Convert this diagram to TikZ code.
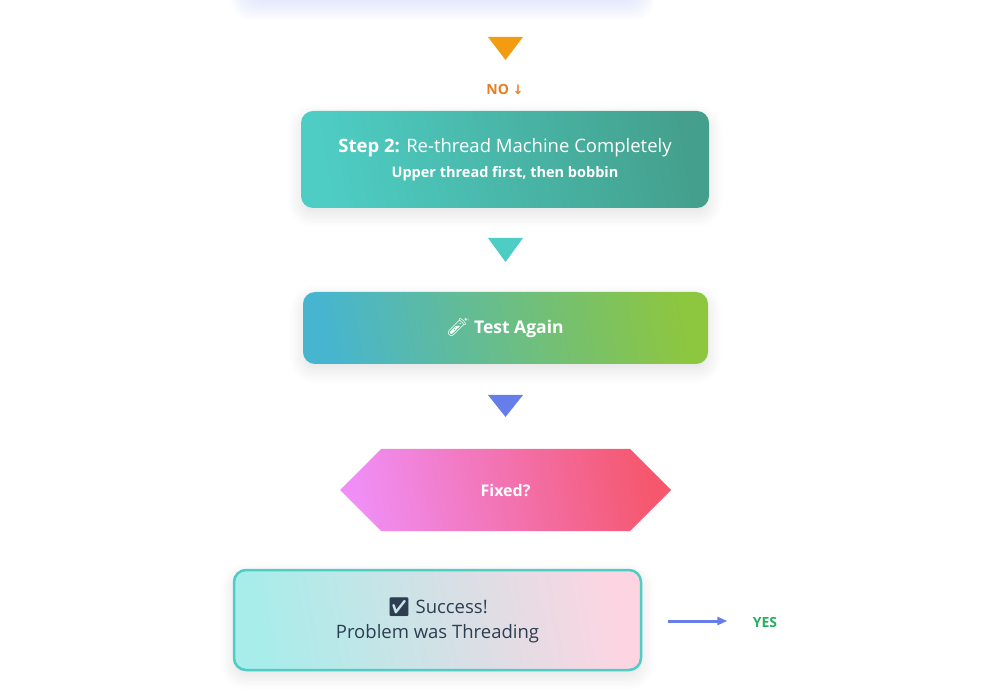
\documentclass[tikz,border=0pt]{standalone}
\usepackage{fontspec}
\setmainfont{Open Sans}
\newfontfamily\emo{Noto Emoji}
\newfontfamily\dvs{DejaVu Sans}
\usetikzlibrary{shadows.blur,arrows.meta}
\definecolor{orng}{HTML}{F39C12}
\definecolor{orngt}{HTML}{E67E22}
\definecolor{teal1}{HTML}{4ECDC4}
\definecolor{teal2}{HTML}{44A08D}
\definecolor{blu}{HTML}{667EEA}
\definecolor{tst1}{HTML}{47B5CF}
\definecolor{tst2}{HTML}{8DC63F}
\definecolor{pk1}{HTML}{F08EF5}
\definecolor{pk2}{HTML}{F5576C}
\definecolor{sc1}{HTML}{A8EDEA}
\definecolor{sc2}{HTML}{FDD5E2}
\definecolor{ink}{HTML}{2C3E50}
\definecolor{grn}{HTML}{27AE60}
\tikzset{
  boxsh/.style={blur shadow={shadow blur steps=12,shadow blur radius=14pt,shadow xshift=0pt,shadow yshift=-6pt,shadow opacity=12,shadow blur extra rounding=10pt}},
}
\begin{document}
\begin{tikzpicture}[x=1pt,y=-1pt]
\useasboundingbox (0,0) rectangle (991,700);
\foreach \i in {0,...,7}{
  \fill[blu,opacity=0.025,rounded corners=20pt] (245-2*\i,-40) rectangle (640+2*\i,2+2.5*\i);
}
\fill[orng] (488,37) -- (523,37) -- (505.5,60) -- cycle;
\node[font=\bfseries\fontsize{14}{16}\selectfont,text=orngt] (no) at (505,89) {NO {\dvs\fontsize{13}{15}\selectfont ↓}};
\node[boxsh,rounded corners=12pt,minimum width=408pt,minimum height=97pt,left color=teal1,right color=teal2,shading angle=100] (s2) at (505,159.5) {};
\node[text=white,font=\fontsize{18.5}{22}\selectfont] at (505,148) {\textbf{Step 2:} Re-thread Machine Completely};
\node[text=white,font=\bfseries\fontsize{14.5}{17}\selectfont] at (505,174) {Upper thread first, then bobbin};
\fill[teal1] (488,238) -- (523,238) -- (505.5,262) -- cycle;
\node[boxsh,rounded corners=12pt,minimum width=405pt,minimum height=72pt,left color=tst1,right color=tst2,shading angle=100,text=white,font=\bfseries\fontsize{17.5}{20}\selectfont] (ta) at (505.5,328) {{\emo 🧪} Test Again};
\fill[blu] (488,395) -- (523,395) -- (505.5,417) -- cycle;
\shade[left color=pk1,right color=pk2,shading angle=100] (340,490) -- (381,449) -- (630,449) -- (671,490) -- (630,531) -- (381,531) -- cycle;
\node[text=white,font=\bfseries\fontsize{16}{19}\selectfont] (fx) at (505.5,491) {Fixed?};
\node[boxsh,draw=teal1,line width=2.5pt,rounded corners=12pt,minimum width=407pt,minimum height=100pt,left color=sc1,right color=sc2,shading angle=100,text=ink,align=center,font=\fontsize{18.5}{25}\selectfont] (sc) at (437.5,620) {{\emo ✅} Success!\\Problem was Threading};
\node[text=grn,font=\bfseries\fontsize{14}{16}\selectfont] (yes) at (765,622) {YES};
\coordinate (a0) at (668,621);
\draw[blu,line width=3pt,-{Triangle[length=10pt,width=8pt]}] (a0) -- ([xshift=-22pt]yes.west |- a0);
\end{tikzpicture}
\end{document}
